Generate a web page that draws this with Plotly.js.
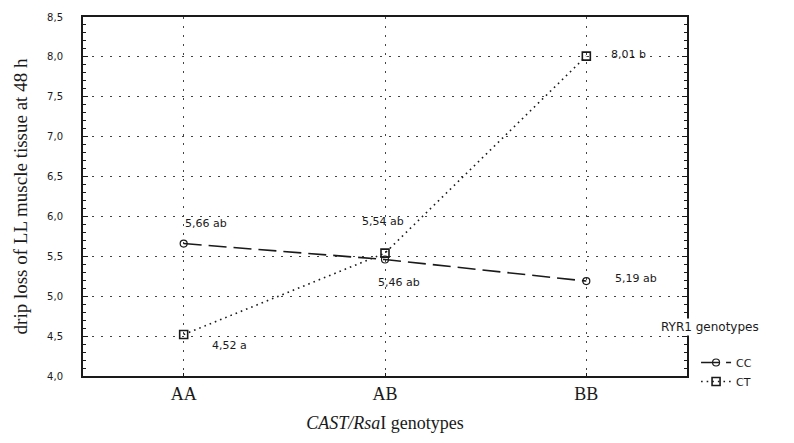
<!DOCTYPE html>
<html>
<head>
<meta charset="utf-8">
<script src="https://cdn.plot.ly/plotly-3.0.1.min.js"></script>
<style>html,body{margin:0;padding:0;background:#fff;}#chart{width:794px;height:443px;}</style>
</head>
<body>
<div id="chart"></div>
<script>
const categories = ["AA", "AB", "BB"];
const seriesNames = ["CC", "CT"];
const ccValues = [5.66, 5.46, 5.19];
const ctValues = [4.52, 5.54, 8.01];
const ccLabels = ["5,66 ab", "5,46 ab", "5,19 ab"];
const ctLabels = ["4,52 a", "5,54 ab", "8,01 b"];
const yTickVals = [4.0, 4.5, 5.0, 5.5, 6.0, 6.5, 7.0, 7.5, 8.0, 8.5];
const yTickText = ["4,0", "4,5", "5,0", "5,5", "6,0", "6,5", "7,0", "7,5", "8,0", "8,5"];
const legendTitle = "RYR1 genotypes";

const ink = "#1a1a1a";
const labFont = {family: "DejaVu Sans, sans-serif", size: 11, color: ink};

const traces = [
  {
    x: categories, y: ccValues, name: seriesNames[0], type: "scatter", mode: "lines+markers",
    line: {color: ink, width: 1.6, dash: "18px,7px"},
    marker: {symbol: "circle-open", size: 7, color: ink, line: {width: 1.2}}
  },
  {
    x: categories, y: ctValues, name: seriesNames[1], type: "scatter", mode: "lines+markers",
    line: {color: ink, width: 1.6, dash: "1.6px,4px"},
    marker: {symbol: "square-open", size: 8, color: ink, line: {width: 1.6}}
  }
];

const ccOff = [[22, -20], [14, 23], [50, -3]];
const ctOff = [[46, 11], [-2, -32], [42, -2]];
const annotations = [];
categories.forEach((c, i) => {
  annotations.push({x: c, y: ccValues[i], xref: "x", yref: "y", text: ccLabels[i], showarrow: false,
    xshift: ccOff[i][0], yshift: -ccOff[i][1], font: labFont});
  annotations.push({x: c, y: ctValues[i], xref: "x", yref: "y", text: ctLabels[i], showarrow: false,
    xshift: ctOff[i][0], yshift: -ctOff[i][1], font: labFont});
});
annotations.push({x: 0.953, y: 0.137, xref: "paper", yref: "paper", xanchor: "left", yanchor: "middle",
  text: legendTitle, showarrow: false, font: {family: "DejaVu Sans, sans-serif", size: 12, color: ink},
  bgcolor: "#fff"});

const layout = {
  width: 794, height: 443,
  margin: {l: 83, r: 107, t: 17, b: 67},
  paper_bgcolor: "#fff", plot_bgcolor: "#fff",
  showlegend: true,
  legend: {
    x: 1.015, y: 0.078, xanchor: "left", yanchor: "top",
    bgcolor: "rgba(255,255,255,0)",
    font: {family: "DejaVu Sans, sans-serif", size: 11, color: ink},
    itemwidth: 30, tracegroupgap: 0
  },
  xaxis: {
    type: "category", range: [-0.5, 2.5],
    showline: true, linecolor: ink, linewidth: 2, mirror: true,
    showgrid: true, gridcolor: "#444", griddash: "2px,7px", gridwidth: 1,
    ticks: "inside", ticklen: 3, tickcolor: ink,
    tickfont: {family: "Liberation Serif, serif", size: 18, color: ink},
    title: {text: "<i>CAST/Rsa</i>I genotypes", standoff: 14,
      font: {family: "Liberation Serif, serif", size: 18, color: ink}},
    zeroline: false, fixedrange: true
  },
  yaxis: {
    range: [4.0, 8.5], tickvals: yTickVals, ticktext: yTickText,
    showline: true, linecolor: ink, linewidth: 2, mirror: "ticks",
    showgrid: true, gridcolor: "#444", griddash: "2px,7px", gridwidth: 1,
    ticks: "inside", ticklen: 5, tickcolor: ink,
    minor: {dtick: 0.1, ticks: "inside", ticklen: 3, tickcolor: ink, showgrid: false},
    ticklabelstandoff: 16,
    tickfont: {family: "DejaVu Sans, sans-serif", size: 10, color: ink},
    title: {text: "drip loss of LL muscle tissue at 48 h", standoff: 14,
      font: {family: "Liberation Serif, serif", size: 19, color: ink}},
    zeroline: false, fixedrange: true
  },
  annotations: annotations
};

Plotly.newPlot("chart", traces, layout, {displayModeBar: false, staticPlot: true});
</script>
</body>
</html>
